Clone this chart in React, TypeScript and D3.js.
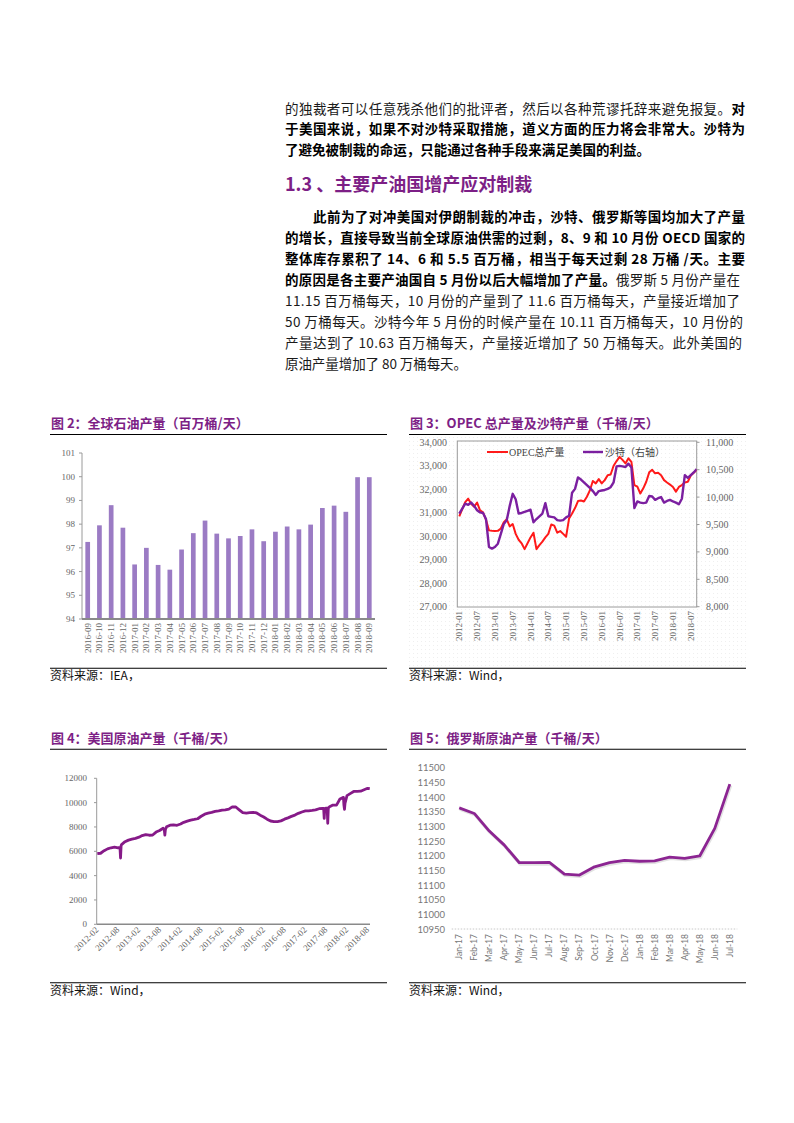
import React from 'react';
import * as d3 from 'd3';

const CJK = '"Noto Sans CJK SC", "Noto Sans", sans-serif';
const SERIF = '"Liberation Serif", "DejaVu Serif", serif';
const SANS = 'Lato, "Open Sans", sans-serif';
const PURPLE = '#7d1f86';
const AXIS = '#9a9a9a';
const LABEL = '#666';

// 图2 全球石油产量
const globalMonths = ['2016-09', '2016-10', '2016-11', '2016-12', '2017-01', '2017-02', '2017-03', '2017-04', '2017-05', '2017-06', '2017-07', '2017-08', '2017-09', '2017-10', '2017-11', '2017-12', '2018-01', '2018-02', '2018-03', '2018-04', '2018-05', '2018-06', '2018-07', '2018-08', '2018-09'];
const globalValues = [97.25, 97.95, 98.8, 97.85, 96.3, 97.0, 96.28, 96.08, 96.93, 97.62, 98.15, 97.6, 97.4, 97.5, 97.78, 97.28, 97.68, 97.9, 97.78, 97.98, 98.68, 98.78, 98.52, 99.98, 99.98];
const globalTicks = [94, 95, 96, 97, 98, 99, 100, 101];

// 图3 OPEC 与 沙特 (月度, 2012-01 起)
const opecValues = [30850, 31150, 31450, 31600, 31380, 31260, 31430, 31100, 31020, 30700, 30250, 30230, 30220, 30230, 30330, 30600, 30720, 30420, 30520, 30100, 29850, 29700, 29450, 29700, 29950, 30150, 29450, 29620, 29770, 29950, 30100, 30500, 30450, 30150, 30220, 30100, 29980, 30760, 30970, 31200, 31500, 31520, 31480, 31680, 31950, 32350, 32250, 32430, 32250, 32390, 32600, 32630, 33000, 33200, 33380, 33250, 33100, 33320, 33170, 32180, 32110, 31820, 32040, 32320, 32720, 32830, 32680, 32700, 32600, 32390, 32290, 32200, 32100, 31900, 32100, 32180, 32290, 32320, 32580, 32700, 32820];
const saudiValues = [9700, 9790, 9880, 9860, 9900, 9840, 9760, 9720, 9710, 9600, 9090, 9060, 9090, 9150, 9330, 9510, 9580, 9840, 10060, 9960, 9700, 9710, 9730, 9750, 9770, 9540, 9600, 9650, 9700, 9890, 9650, 9640, 9630, 9580, 9570, 9580, 9630, 9660, 10080, 10150, 10360, 10320, 10270, 10220, 10170, 10110, 10040, 10110, 10120, 10130, 10150, 10180, 10270, 10560, 10570, 10560, 10550, 10610, 10540, 9800, 9920, 9900, 9890, 9900, 10020, 10010, 9950, 9980, 10000, 9900, 9930, 9950, 9920, 9900, 9870, 9970, 10400, 10350, 10400, 10450, 10510];
const opecTickLabels = ['2012-01', '2012-07', '2013-01', '2013-07', '2014-01', '2014-07', '2015-01', '2015-07', '2016-01', '2016-07', '2017-01', '2017-07', '2018-01', '2018-07'];
const opecLeftTicks = [27000, 28000, 29000, 30000, 31000, 32000, 33000, 34000];
const saudiRightTicks = [8000, 8500, 9000, 9500, 10000, 10500, 11000];

// 图4 美国原油产量 (月度, 2012-02 起, 另加飓风等短时下探)
const usMonthly = [5800, 5840, 6050, 6200, 6290, 6350, 6290, 6550, 6790, 6920, 7000, 7065, 7160, 7290, 7370, 7320, 7340, 7580, 7710, 7890, 8010, 8150, 8180, 8140, 8240, 8380, 8480, 8560, 8615, 8675, 8880, 9050, 9130, 9200, 9275, 9325, 9385, 9400, 9470, 9655, 9640, 9410, 9180, 9135, 9170, 9205, 9150, 8970, 8820, 8640, 8490, 8445, 8445, 8500, 8640, 8750, 8870, 8975, 9120, 9230, 9320, 9330, 9360, 9400, 9500, 9530, 9550, 9660, 9800, 9800, 10300, 10430, 10580, 10740, 10920, 10930, 10940, 11060, 11180];
const usDips: [string, number][] = [
  ['2012-08-18', 6300], ['2012-08-23', 5450], ['2012-08-28', 6450],
  ['2013-09-11', 7760], ['2013-09-16', 7340], ['2013-09-21', 7800],
  ['2017-07-11', 9520], ['2017-07-16', 8710], ['2017-07-21', 9520],
  ['2017-08-11', 9540], ['2017-08-16', 8300], ['2017-08-21', 9560],
  ['2018-01-05', 9800], ['2018-01-10', 9450], ['2018-01-15', 9950],
  ['2018-08-20', 11150],
];
const usTickLabels = ['2012-02', '2012-08', '2013-02', '2013-08', '2014-02', '2014-08', '2015-02', '2015-08', '2016-02', '2016-08', '2017-02', '2017-08', '2018-02', '2018-08'];
const usYTicks = [0, 2000, 4000, 6000, 8000, 10000, 12000];

// 图5 俄罗斯原油产量
const russiaMonths = ['Jan-17', 'Feb-17', 'Mar-17', 'Apr-17', 'May-17', 'Jun-17', 'Jul-17', 'Aug-17', 'Sep-17', 'Oct-17', 'Nov-17', 'Dec-17', 'Jan-18', 'Feb-18', 'Mar-18', 'Apr-18', 'May-18', 'Jun-18', 'Jul-18'];
const russiaValues = [11363, 11344, 11284, 11236, 11176, 11176, 11177, 11137, 11134, 11162, 11176, 11184, 11181, 11182, 11195, 11191, 11199, 11293, 11444];
const russiaTicks = [10950, 11000, 11050, 11100, 11150, 11200, 11250, 11300, 11350, 11400, 11450, 11500];

type Part = { t: string; b?: boolean };

const Line: React.FC<{ x: number; y: number; w?: number; parts: Part[] }> = ({ x, y, w, parts }) => (
  <text x={x} y={y} fontSize={13.5} fontFamily={CJK} textLength={w} lengthAdjust={w ? 'spacing' : undefined}>
    {parts.map((p, i) => (
      <tspan key={i} fontWeight={p.b ? 700 : 400} fill={p.b ? '#000' : '#1a1a1a'}>{p.t}</tspan>
    ))}
  </text>
);

const FigFrame: React.FC<{ x0: number; x1: number; titleY: number; ruleY: number; srcRuleY: number; title: string; src: string }> = ({ x0, x1, titleY, ruleY, srcRuleY, title, src }) => (
  <g>
    <text x={x0 + 1} y={titleY} fontSize={13} fontWeight={700} fill={PURPLE} fontFamily={CJK}>{title}</text>
    <line x1={x0} x2={x1} y1={ruleY} y2={ruleY} stroke="#000" strokeWidth={1.1} />
    <line x1={x0} x2={x1} y1={srcRuleY} y2={srcRuleY} stroke="#000" strokeWidth={1.1} />
    <text x={x0} y={srcRuleY + 12} fontSize={12} fill="#111" fontFamily={CJK}>{src}</text>
  </g>
);

const Fig2: React.FC = () => {
  const x = d3.scaleBand().domain(globalMonths).range([82, 375]).paddingInner(0.6).paddingOuter(0.286);
  const y = d3.scaleLinear().domain([94, 101]).range([619, 453]);
  return (
    <g>
      <line x1={82} x2={82} y1={y(101)} y2={y(94)} stroke={AXIS} strokeWidth={1} />
      {globalTicks.map(t => (
        <g key={t}>
          <line x1={79} x2={82} y1={y(t)} y2={y(t)} stroke={AXIS} />
          <text x={75} y={y(t) + 3} fontSize={9} textAnchor="end" fill={LABEL} fontFamily={SERIF}>{t}</text>
        </g>
      ))}
      {globalMonths.map((m, i) => (
        <rect key={m} x={x(m)!} width={x.bandwidth()} y={y(globalValues[i])} height={y(94) - y(globalValues[i])} fill="#9b7bc4" />
      ))}
      <line x1={82} x2={375} y1={y(94)} y2={y(94)} stroke="#8a8a8a" strokeWidth={2} />
      {globalMonths.map(m => {
        const cx = x(m)! + x.bandwidth() / 2;
        return (
          <text key={m} transform={`translate(${cx + 3},${y(94) + 4}) rotate(-90)`} fontSize={9} textAnchor="end" fill={LABEL} fontFamily={SERIF}>{m}</text>
        );
      })}
    </g>
  );
};

const Fig3: React.FC = () => {
  const x = d3.scaleLinear().domain([-0.67, 80]).range([457.3, 696.7]);
  const yl = d3.scaleLinear().domain([27000, 34000]).range([606.7, 442.3]);
  const yr = d3.scaleLinear().domain([8000, 11000]).range([606.7, 442.3]);
  const fmt = d3.format(',');
  const lineL = d3.line<number>().x((_, i) => x(i)).y(d => yl(d));
  const lineR = d3.line<number>().x((_, i) => x(i)).y(d => yr(d));
  return (
    <g>
      <defs>
        <pattern id="dots" width={4} height={4} patternUnits="userSpaceOnUse">
          <rect x={1} y={1} width={1} height={1} fill="#efefef" />
        </pattern>
        <clipPath id="plot3"><rect x={457.3} y={441} width={239.4} height={166} /></clipPath>
      </defs>
      <rect x={408} y={437} width={338} height={230} fill="url(#dots)" />
      <rect x={457.3} y={441} width={239.4} height={166} fill="none" stroke={AXIS} strokeWidth={1} />
      {opecLeftTicks.map(t => (
        <text key={t} x={447} y={yl(t) + 3.5} fontSize={10} textAnchor="end" fill={LABEL} fontFamily={SERIF}>{fmt(t)}</text>
      ))}
      {saudiRightTicks.map(t => (
        <g key={t}>
          <line x1={696.7} x2={699.5} y1={yr(t)} y2={yr(t)} stroke={AXIS} />
          <text x={706} y={yr(t) + 3.5} fontSize={10} fill={LABEL} fontFamily={SERIF}>{fmt(t)}</text>
        </g>
      ))}
      {opecTickLabels.map((lab, k) => (
        <text key={lab} transform={`translate(${x(k * 6) + 3},${611}) rotate(-90)`} fontSize={9} textAnchor="end" fill={LABEL} fontFamily={SERIF}>{lab}</text>
      ))}
      <g clipPath="url(#plot3)">
        <path d={lineL(opecValues)!} fill="none" stroke="#ff1a1a" strokeWidth={2} strokeLinejoin="round" />
        <path d={lineR(saudiValues)!} fill="none" stroke="#7b1fa0" strokeWidth={2.4} strokeLinejoin="round" />
      </g>
      <line x1={487} x2={508} y1={452} y2={452} stroke="#ff1a1a" strokeWidth={2} />
      <text x={509} y={455.5} fontSize={10} fill="#444" fontFamily={SERIF}>OPEC<tspan fontFamily={CJK}>总产量</tspan></text>
      <line x1={583} x2={603} y1={452} y2={452} stroke="#7b1fa0" strokeWidth={2.4} />
      <text x={605} y={455.5} fontSize={10} fill="#444" fontFamily={CJK}>沙特（右轴）</text>
    </g>
  );
};

const Fig4: React.FC = () => {
  const parse = d3.timeParse('%Y-%m-%d');
  const months = d3.timeMonth.range(new Date(2012, 1, 1), new Date(2018, 8, 1));
  const pts: [Date, number][] = months.map((d, i) => [d, usMonthly[i]] as [Date, number])
    .concat(usDips.map(([s, v]) => [parse(s)!, v] as [Date, number]))
    .sort((a, b) => +a[0] - +b[0]);
  const x = d3.scaleTime().domain([new Date(2012, 1, 1), new Date(2018, 7, 22)]).range([97.3, 370]);
  const y = d3.scaleLinear().domain([0, 12000]).range([924.3, 778.3]);
  const line = d3.line<[Date, number]>().x(d => x(d[0])).y(d => y(d[1]));
  const tickDates = usTickLabels.map(s => d3.timeParse('%Y-%m')(s)!);
  return (
    <g>
      <line x1={96.7} x2={96.7} y1={y(12000)} y2={y(0)} stroke={AXIS} />
      {usYTicks.map(t => (
        <g key={t}>
          <line x1={94} x2={96.7} y1={y(t)} y2={y(t)} stroke={AXIS} />
          <text x={87} y={y(t) + 3} fontSize={9} textAnchor="end" fill={LABEL} fontFamily={SERIF}>{t}</text>
        </g>
      ))}
      <line x1={96.7} x2={370} y1={y(0)} y2={y(0)} stroke="#8a8a8a" strokeWidth={1.5} />
      {tickDates.map((d, i) => (
        <text key={i} transform={`translate(${x(d) + 2},${y(0) + 6}) rotate(-45)`} fontSize={9} textAnchor="end" fill={LABEL} fontFamily={SERIF}>{usTickLabels[i]}</text>
      ))}
      <path d={line(pts)!} fill="none" stroke="#861a88" strokeWidth={2.8} strokeLinejoin="round" />
    </g>
  );
};

const Fig5: React.FC = () => {
  const x = d3.scaleBand().domain(russiaMonths).range([451.7, 737.3]);
  const y = d3.scaleLinear().domain([10950, 11500]).range([929, 767.7]);
  const cx = (m: string) => x(m)! + x.bandwidth() / 2;
  const line = d3.line<number>().x((_, i) => cx(russiaMonths[i])).y(d => y(d));
  return (
    <g>
      {russiaTicks.map(t => (
        <text key={t} x={445} y={y(t) + 3.5} fontSize={9.5} textAnchor="end" fill="#777" fontFamily={SANS}>{t}</text>
      ))}
      <line x1={451.7} x2={737.3} y1={y(10950)} y2={y(10950)} stroke="#c8c8c8" strokeWidth={1} strokeDasharray="1.5,1.5" />
      {russiaMonths.map(m => (
        <text key={m} transform={`translate(${cx(m) + 3},${934}) rotate(-90)`} fontSize={8.5} textAnchor="end" fill="#777" fontFamily={SANS}>{m}</text>
      ))}
      <path d={line(russiaValues)!} fill="none" stroke="#e2e2e2" strokeWidth={3.5} transform="translate(0.8,1.2)" strokeLinejoin="round" />
      <path d={line(russiaValues)!} fill="none" stroke="#8c2592" strokeWidth={2.8} strokeLinejoin="round" />
    </g>
  );
};

const App: React.FC = () => (
  <div style={{ position: 'absolute', left: 0, top: 0, width: 794, height: 1123, background: '#fff' }}>
    <svg width={794} height={1123} viewBox="0 0 794 1123" style={{ display: 'block' }}>
      <rect width={794} height={1123} fill="#fff" />
      <Line x={285} y={114} w={460} parts={[{ t: '的独裁者可以任意残杀他们的批评者，然后以各种荒谬托辞来避免报复。' }, { t: '对', b: true }]} />
      <Line x={285} y={134} w={460} parts={[{ t: '于美国来说，如果不对沙特采取措施，道义方面的压力将会非常大。沙特为', b: true }]} />
      <Line x={285} y={155} w={365} parts={[{ t: '了避免被制裁的命运，只能通过各种手段来满足美国的利益。', b: true }]} />
      <text x={285} y={191} fontSize={18} fontWeight={700} fill={PURPLE} fontFamily={CJK}>1.3 、主要产油国增产应对制裁</text>
      <Line x={313} y={222} w={432} parts={[{ t: '此前为了对冲美国对伊朗制裁的冲击，沙特、俄罗斯等国均加大了产量', b: true }]} />
      <Line x={285} y={243} w={460} parts={[{ t: '的增长，直接导致当前全球原油供需的过剩，8、9 和 10 月份 OECD 国家的', b: true }]} />
      <Line x={285} y={263.5} w={460} parts={[{ t: '整体库存累积了 14、6 和 5.5 百万桶，相当于每天过剩 28 万桶 /天。主要', b: true }]} />
      <Line x={285} y={285} w={455} parts={[{ t: '的原因是各主要产油国自 5 月份以后大幅增加了产量。', b: true }, { t: '俄罗斯 5 月份产量在' }]} />
      <Line x={285} y={306} w={455} parts={[{ t: '11.15 百万桶每天，10 月份的产量到了 11.6 百万桶每天，产量接近增加了' }]} />
      <Line x={285} y={327} w={458} parts={[{ t: '50 万桶每天。沙特今年 5 月份的时候产量在 10.11 百万桶每天，10 月份的' }]} />
      <Line x={285} y={347.5} w={457} parts={[{ t: '产量达到了 10.63 百万桶每天，产量接近增加了 50 万桶每天。此外美国的' }]} />
      <Line x={285} y={368.5} w={182} parts={[{ t: '原油产量增加了 80 万桶每天。' }]} />

      <FigFrame x0={50} x1={387} titleY={428} ruleY={434.5} srcRuleY={668.3} title="图 2：全球石油产量（百万桶/天）" src="资料来源：IEA，" />
      <FigFrame x0={409} x1={746} titleY={428} ruleY={434.5} srcRuleY={668.3} title="图 3：OPEC 总产量及沙特产量（千桶/天）" src="资料来源：Wind，" />
      <FigFrame x0={50} x1={387} titleY={743} ruleY={749.3} srcRuleY={982.8} title="图 4：美国原油产量（千桶/天）" src="资料来源：Wind，" />
      <FigFrame x0={409} x1={746} titleY={743} ruleY={749.3} srcRuleY={982.8} title="图 5：俄罗斯原油产量（千桶/天）" src="资料来源：Wind，" />

      <Fig2 />
      <Fig3 />
      <Fig4 />
      <Fig5 />
    </svg>
  </div>
);

export default App;
